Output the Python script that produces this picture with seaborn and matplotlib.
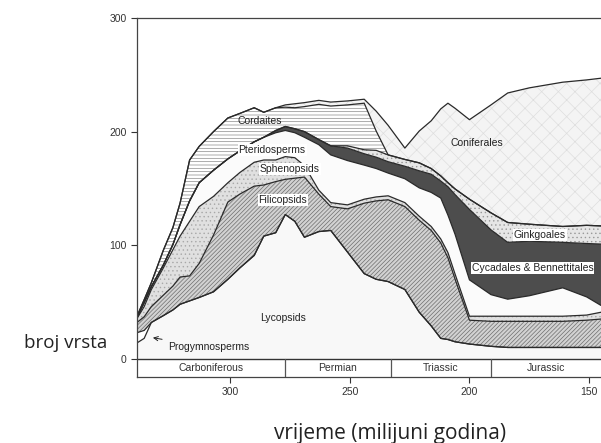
import numpy as np
import pandas as pd
import seaborn as sns
import matplotlib.pyplot as plt

# time axis (millions of years ago)
ages = [339, 336, 333, 328, 324, 321, 317, 313, 307, 301, 296, 290, 286, 281, 277, 273, 269,
        263, 258, 251, 244, 239, 234, 227, 221, 216, 212, 209, 206, 200, 191, 184, 175, 161, 151, 145]

# number of species per group (stacked, bottom to top)
lycopsids = [14, 18, 32, 38, 43, 48, 51, 54, 59, 70, 80, 91, 108, 111, 127, 121, 107,
             112, 113, 94, 75, 70, 68, 61, 41, 29, 18, 17, 15, 13, 11, 10, 10, 10, 10, 10]
progymnosperms = [9, 7] + [0] * 34
filicopsids = [9, 12, 14, 18, 21, 24, 22, 30, 50, 68, 65, 61, 45, 45, 31, 38, 53,
               33, 21, 38, 62, 69, 72, 73, 81, 84, 84, 72, 55, 21, 22, 23, 23, 23, 24, 25]
sphenopsids = [3.5, 9, 15, 24, 32, 36, 48, 50, 34, 17, 19, 21, 22, 19, 20, 18, 10,
               3.5, 3.5, 3.5, 3.5, 3.5, 3.5, 3.5, 3.5, 3.5, 3.5, 4.5, 4.5, 3.5, 4.5, 4.5, 4.5, 4.5, 4.5, 6]
pteridosperms = [1, 3.5, 2.5, 2.5, 4.5, 10, 18, 21, 23, 21, 19, 18, 20, 24, 23, 22, 25,
                 40, 42, 39, 30, 25, 20, 21, 25, 30, 36, 33, 35, 32, 19, 15, 18, 25, 16, 6]
cycadales = [0] * 13 + [2, 3.5, 3.5, 5, 4.5, 8, 11, 10, 10, 10, 11, 15, 16, 15, 25, 35,
                        62, 57, 50, 48, 40, 47, 54]
ginkgoales = [0] * 19 + [2, 3.5, 6, 6, 6, 7, 5, 4.5, 3.5, 5, 9, 15, 17.5, 15, 14, 16, 16]
cordaites = [1, 2.5, 3.5, 13, 15, 19, 36, 32, 34, 36, 33, 30, 22, 20, 17, 18.5, 22,
             31, 35, 36, 41, 17] + [0] * 14
coniferales = [0] * 14 + [2, 3.5, 3.5, 3.5, 3.5, 3.5, 3.5, 17.5, 26, 10, 28, 42, 59, 70,
                          71, 70, 95, 114, 120, 127, 128, 130]

groups = ["Lycopsids", "Progymnosperms", "Filicopsids", "Sphenopsids", "Pteridosperms",
          "Cycadales & Bennettitales", "Ginkgoales", "Cordaites", "Coniferales"]
layers = [lycopsids, progymnosperms, filicopsids, sphenopsids, pteridosperms,
          cycadales, ginkgoales, cordaites, coniferales]

period_names = ["Carboniferous", "Permian", "Triassic", "Jurassic"]
period_edges = [339, 277, 233, 191, 145]

sns.set_style("ticks")
plt.rcParams["font.family"] = ["Liberation Sans", "DejaVu Sans"]
plt.rcParams["hatch.linewidth"] = 0.5

fig = plt.figure(figsize=(6.01, 4.43), dpi=100)
ax = fig.add_axes([137 / 601, 66 / 443, 464 / 601, 359 / 443])

faces = ["#f8f8f8", "#ffffff", "#d2d2d2", "#e0e0e0", "#fbfbfb",
         "#4d4d4d", "#e6e6e6", "#ffffff", "#f4f4f4"]
hatches = ["", "", "////////", "....", "", "", "....", "-----", "xx"]
hatch_cols = ["#dddddd", "#ffffff", "#6e6e6e", "#a8a8a8", "#ffffff",
              "#4d4d4d", "#999999", "#8a8a8a", "#dedede"]

polys = ax.stackplot(ages, layers, colors=faces, linewidth=0)
for p, h, c in zip(polys, hatches, hatch_cols):
    p.set_hatch(h)
    p.set_edgecolor(c)
    p.set_linewidth(0)

# outline of every band
tops = np.cumsum(np.array(layers, dtype=float), axis=0)
lines = pd.DataFrame({
    "age": np.tile(ages, len(groups)),
    "top": tops.ravel(),
    "group": np.repeat(groups, len(ages)),
})
sns.lineplot(data=lines, x="age", y="top", units="group", estimator=None,
             color="#2a2a2a", linewidth=0.9, sort=False, ax=ax, legend=False)

# period band under the zero line
ax.axhline(0, color="#333333", linewidth=1.0)
for b in period_edges[1:-1]:
    ax.plot([b, b], [-16, 0], color="#555555", linewidth=0.9)
for name, a, b in zip(period_names, period_edges[:-1], period_edges[1:]):
    ax.text((a + b) / 2, -8, name, ha="center", va="center", fontsize=7.5, color="#333333")

txt = dict(fontsize=7.5, color="#222222", ha="center", va="center")
box = dict(facecolor="white", edgecolor="none", pad=0.6)
ax.text(287.5, 209, "Cordaites", **txt)
ax.text(282.5, 184, "Pteridosperms", bbox=box, **txt)
ax.text(275, 167, "Sphenopsids", bbox=box, **txt)
ax.text(278, 140, "Filicopsids", bbox=box, **txt)
ax.text(278, 36, "Lycopsids", **txt)
ax.text(197, 190, "Coniferales", **txt)
ax.text(170.5, 109, "Ginkgoales", bbox=box, **txt)
ax.text(199, 80, "Cycadales & Bennettitales", fontsize=7.5, color="#222222",
        ha="left", va="center", bbox=box)
ax.annotate("Progymnosperms", xy=(333.5, 19), xytext=(326, 10), fontsize=7.5,
            color="#222222", ha="left", va="center",
            arrowprops=dict(arrowstyle="->", color="#222222", lw=0.7))

ax.set_xlim(339, 145)
ax.set_ylim(-16, 300)
ax.set_xticks([300, 250, 200, 150])
ax.set_yticks([0, 100, 200, 300])
ax.tick_params(direction="out", length=4, width=0.8, labelsize=7.5, colors="#333333")
ax.set_xlabel("")
ax.set_ylabel("")
for s in ["left", "top", "bottom"]:
    ax.spines[s].set_color("#444444")
    ax.spines[s].set_linewidth(0.9)
ax.spines["right"].set_visible(False)

fig.text(66 / 601, 1 - 343 / 443, "broj vrsta", ha="center", va="center",
         fontsize=13.5, family="Open Sans", color="#222222")
fig.text(390 / 601, 1 - 433 / 443, "vrijeme (milijuni godina)", ha="center", va="center",
         fontsize=15, family="Open Sans", color="#222222")

fig.savefig("out.png", dpi=100)
